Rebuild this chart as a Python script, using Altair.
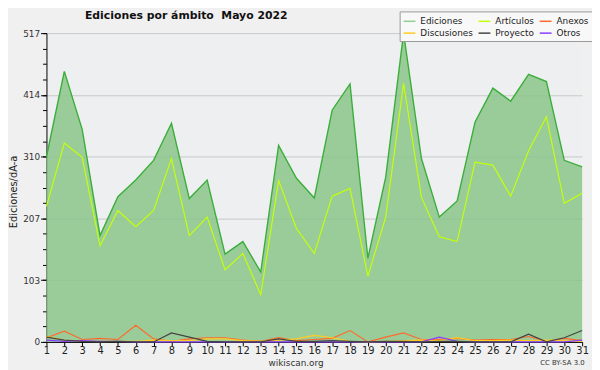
import altair as alt
import pandas as pd

days = list(range(1, 32))
ediciones = [310, 453, 356, 178, 243, 271, 304, 366, 240, 271, 147, 168, 117, 329, 274, 241,
             388, 432, 140, 276, 517, 307, 209, 236, 368, 425, 403, 448, 436, 304, 293]
articulos = [227, 333, 309, 161, 220, 193, 220, 307, 178, 209, 121, 148, 79, 270, 190, 148,
             244, 257, 110, 209, 433, 242, 176, 168, 301, 296, 244, 320, 377, 232, 249]
anexos = [7, 18, 4, 6, 4, 28, 5, 1, 5, 7, 7, 3, 1, 7, 2, 4, 6, 19, 0, 8, 15, 4, 4, 6, 3, 4, 4, 9, 1, 6, 2]
discusiones = [9, 3, 1, 1, 1, 1, 3, 2, 2, 5, 5, 2, 1, 3, 5, 11, 7, 1, 0, 1, 2, 3, 2, 7, 2, 2, 3, 2, 3, 2, 1]
proyecto = [8, 3, 1, 0, 1, 0, 0, 15, 8, 1, 0, 0, 0, 5, 1, 1, 2, 1, 0, 1, 1, 0, 1, 1, 0, 0, 0, 13, 0, 7, 19]
otros = [3, 1, 2, 1, 1, 0, 0, 0, 0, 0, 0, 0, 0, 0, 0, 0, 0, 0, 0, 0, 0, 0, 8, 1, 0, 0, 0, 0, 0, 0, 3]

# legend is laid out column by column (2 rows x 3 columns)
series_names = ["Ediciones", "Discusiones", "Artículos", "Proyecto", "Anexos", "Otros"]
series_colors = ["#8fcf8f", "#ffcc22", "#c4ff0a", "#444444", "#ff6a2a", "#8a3cff"]

y_max = 517
major_ticks = [0, 103.4, 206.8, 310.2, 413.6, 517]
minor_ticks = [y_max * i / 20 for i in range(21)]

title_text = "Ediciones por ámbito\u00a0 Mayo 2022"
y_title = "Ediciones/dÃ-a"
footer = "wikiscan.org"
license_text = "CC BY-SA 3.0"

df_ed = pd.DataFrame({"day": days, "value": ediciones})
rows = []
for name, vals in [("Anexos", anexos), ("Discusiones", discusiones), ("Otros", otros),
                   ("Proyecto", proyecto), ("Artículos", articulos)]:
    for d, v in zip(days, vals):
        rows.append({"day": d, "value": v, "serie": name})
df_lines = pd.DataFrame(rows)

FONT = "DejaVu Sans"

x_enc = alt.X("day:Q",
              scale=alt.Scale(domain=[1, 31], nice=False, zero=False),
              axis=alt.Axis(values=days, title=None, grid=False, domainColor="black",
                            tickColor="black", tickSize=4, labelFontSize=10, labelColor="#222",
                            labelPadding=0, labelFont=FONT, labelFlush=False))
y_scale = alt.Scale(domain=[0, y_max], nice=False, zero=True)

area_ed = alt.Chart(df_ed).mark_area(color="#8bc58b", opacity=0.85).encode(
    x=x_enc,
    y=alt.Y("value:Q", scale=y_scale,
            axis=alt.Axis(values=major_ticks, format=".0f", title=None, grid=True,
                          gridColor="#c8c8c8", domainColor="black", tickColor="black",
                          tickSize=6, labelFontSize=9, labelColor="#333", labelFont=FONT,
                          labelPadding=1, orient="left"))
)

line_ed = alt.Chart(df_ed).mark_line(color="#3aae3a", strokeWidth=1.4).encode(
    x=x_enc,
    y=alt.Y("value:Q", scale=y_scale,
            axis=alt.Axis(values=minor_ticks, labels=False, title=None, grid=False,
                          domain=False, tickColor="black", tickSize=4, orient="left"))
)

lines = alt.Chart(df_lines).mark_line(strokeWidth=1.2).encode(
    x=x_enc,
    y=alt.Y("value:Q", scale=y_scale, axis=None),
    color=alt.Color("serie:N",
                    scale=alt.Scale(domain=series_names, range=series_colors),
                    sort=series_names,
                    legend=alt.Legend(title=None, orient="none", legendX=358, legendY=-22,
                                      columns=3, symbolType="stroke", symbolStrokeWidth=1.5,
                                      symbolSize=144, labelFontSize=9, labelFont=FONT,
                                      labelColor="#222", rowPadding=0, columnPadding=2,
                                      padding=3, labelOffset=4, fillColor="#f8f8f8",
                                      strokeColor="#999999", labelLimit=80)),
    detail="serie:N"
)

def label(text, x, y, size, weight="normal", angle=0, align="center", color="#222"):
    return alt.Chart(pd.DataFrame({"t": [text]})).mark_text(
        fontSize=size, font=FONT, fontWeight=weight, angle=angle, align=align,
        baseline="middle", color=color
    ).encode(text="t:N", x=alt.value(x), y=alt.value(y))

title_mark = label(title_text, 39, -17, 11, weight="bold", align="left", color="#111")
ytitle_mark = label(y_title, -33, 161, 10, angle=270, color="#222")
footer_mark = label(footer, 253, 334, 9, color="#333")
license_mark = label(license_text, 523, 334, 7, color="#333")

chart = alt.layer(area_ed, line_ed, lines, title_mark, ytitle_mark, footer_mark, license_mark).resolve_axis(
    y="independent"
).properties(
    width=543, height=313,
    autosize=alt.AutoSizeParams(type="none"),
    padding={"left": 39, "top": 23, "right": 10, "bottom": 26},
    background="#f0f0f0"
).configure_view(fill="#eeeff1", stroke=None)

chart.save("out.html", embed_options={"renderer": "svg", "actions": False})
